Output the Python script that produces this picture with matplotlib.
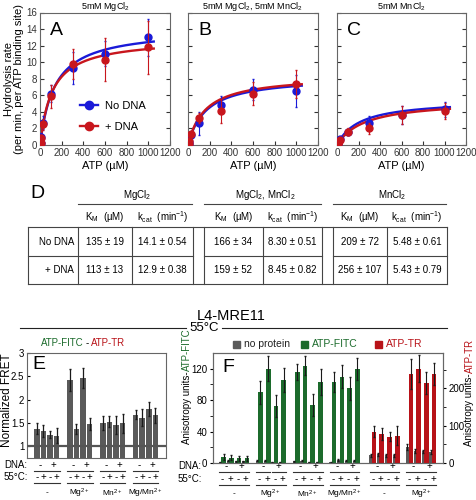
#!/usr/bin/env python3
"""ATP hydrolysis kinetics (A-D) and FRET / anisotropy bar charts (E-F)."""

import matplotlib
matplotlib.use("Agg")
import matplotlib.pyplot as plt
import matplotlib.transforms as mtransforms
from matplotlib.lines import Line2D
from matplotlib.patches import Rectangle
import numpy as np

plt.rcParams["font.family"] = ["Liberation Sans", "DejaVu Sans"]
plt.rcParams["mathtext.fontset"] = "custom"
plt.rcParams["mathtext.rm"] = "Liberation Sans"
plt.rcParams["mathtext.it"] = "Liberation Sans:italic"
plt.rcParams["mathtext.default"] = "regular"

W, H = 476, 500

# ---- panels A-C: hydrolysis rate vs ATP
ATP = [5, 10, 30, 100, 300, 600, 1000]
TITLES = ["5mM MgCl$_2$", "5mM MgCl$_2$, 5mM MnCl$_2$", "5mM MnCl$_2$"]
LETTERS = ["A", "B", "C"]

A_NODNA = [0.3, 1.0, 2.7, 6.2, 9.3, 11.0, 13.0]
A_NODNA_ERR = [0.2, 0.4, 0.8, 1.0, 1.9, 1.5, 2.2]
A_DNA = [0.3, 0.9, 2.5, 5.9, 9.8, 10.3, 11.8]
A_DNA_ERR = [0.2, 0.3, 0.7, 1.4, 1.8, 2.6, 3.2]

B_NODNA = [0.1, 0.4, 1.2, 2.6, 4.8, 6.7, 6.5]
B_NODNA_ERR = [0.1, 0.2, 0.4, 1.4, 1.1, 1.3, 1.9]
B_DNA = [0.1, 0.5, 1.3, 3.3, 4.1, 6.2, 7.4]
B_DNA_ERR = [0.1, 0.2, 0.3, 0.6, 1.5, 1.4, 1.7]

C_NODNA = [0.1, 0.3, 0.7, 1.6, 2.6, 3.6, 4.3]
C_NODNA_ERR = [0.1, 0.1, 0.3, 0.3, 0.9, 1.1, 0.9]
C_DNA = [0.1, 0.3, 0.6, 1.6, 2.0, 3.6, 4.1]
C_DNA_ERR = [0.1, 0.1, 0.2, 0.4, 0.7, 1.1, 1.0]

# ---- table D (fit parameters)
TABLE_GROUPS = ["MgCl$_2$", "MgCl$_2$, MnCl$_2$", "MnCl$_2$"]
ROW_LABELS = ["No DNA", "+ DNA"]
KM_NODNA = [135, 166, 209]
KM_NODNA_ERR = [19, 34, 72]
KCAT_NODNA = [14.1, 8.30, 5.48]
KCAT_NODNA_ERR = [0.54, 0.51, 0.61]
KM_DNA = [113, 159, 256]
KM_DNA_ERR = [13, 52, 107]
KCAT_DNA = [12.9, 8.45, 5.43]
KCAT_DNA_ERR = [0.38, 0.82, 0.79]

# ---- panel E: normalized FRET
E_VALUES = [1.38, 1.33, 1.25, 1.23, 2.42, 1.37, 2.46, 1.47,
            1.50, 1.53, 1.45, 1.49, 1.68, 1.61, 1.79, 1.67]
E_ERR = [0.11, 0.13, 0.08, 0.16, 0.23, 0.11, 0.21, 0.13,
         0.15, 0.12, 0.19, 0.20, 0.10, 0.18, 0.15, 0.16]
E_GROUPS = ["-", "Mg$^{2+}$", "Mn$^{2+}$", "Mg/Mn$^{2+}$"]

# ---- panel F: anisotropy
F_GROUPS = ["-", "Mg$^{2+}$", "Mn$^{2+}$", "Mg/Mn$^{2+}$", "-", "Mg$^{2+}$"]
F_PROBE = ["FITC", "FITC", "FITC", "FITC", "TR", "TR"]
F_NOPROT = [1, 3, 2, 2, 3, 3, 1, 1, 2, 3, 1, 1, 1, 4, 3, 3,
            21, 23, 21, 21, 43, 32, 31, 30]
F_NOPROT_ERR = [0.5, 1, 1, 1, 1, 1, 0.5, 0.5, 1, 1, 0.5, 0.5, 0.5, 1, 1, 1,
                4, 4, 4, 4, 8, 5, 5, 5]
F_SIGNAL = [8, 7, 6, 6, 90, 120, 73, 106, 116, 124, 74, 103, 103, 110, 95, 120,
            84, 78, 71, 73, 238, 253, 215, 238]
F_SIGNAL_ERR = [4, 3, 3, 3, 15, 16, 14, 15, 10, 12, 14, 17, 13, 15, 15, 14,
                15, 15, 13, 25, 40, 36, 30, 30]

BLUE = "#1a1ad8"
RED = "#c8161d"
GREEN = "#1c6b2c"
FRED = "#b81218"
GRAY = "#5a5a5a"
SPINE = "#666666"


def fy(y):
    return 1 - y / H


def px_axes(fig, x0, y0, x1, y1):
    return fig.add_axes([x0 / W, 1 - y1 / H, (x1 - x0) / W, (y1 - y0) / H])


def ftext(fig, x, y, s, **kw):
    kw.setdefault("ha", "center")
    kw.setdefault("va", "center")
    return fig.text(x / W, fy(y), s, **kw)


def fline(fig, x0, x1, y0, y1, **kw):
    kw.setdefault("color", "#444444")
    kw.setdefault("lw", 0.8)
    fig.add_artist(Line2D([x0 / W, x1 / W], [fy(y0), fy(y1)], **kw))


def style_box(ax):
    for s in ax.spines.values():
        s.set_color(SPINE)
        s.set_linewidth(0.8)


def kinetics_panel(fig, ax, i, nodna, nodna_err, dna, dna_err):
    s = np.linspace(0, 1050, 200)
    for km, kcat, col in [(KM_NODNA[i], KCAT_NODNA[i], BLUE),
                          (KM_DNA[i], KCAT_DNA[i], RED)]:
        ax.plot(s, kcat * s / (km + s), color=col, lw=1.7, zorder=2)
    ax.errorbar(ATP, nodna, yerr=nodna_err, fmt="o", color=BLUE, ms=5,
                elinewidth=0.8, capsize=1, zorder=3)
    ax.errorbar(ATP, dna, yerr=dna_err, fmt="o", color=RED, ms=5,
                elinewidth=0.8, capsize=1, zorder=4)
    ax.set_xlim(0, 1200)
    ax.set_ylim(0, 16)
    ax.set_xticks(range(0, 1201, 200))
    ax.set_yticks(range(0, 17, 2))
    ax.tick_params(direction="in", length=3, labelsize=7, pad=2,
                   right=True, colors="#333333")
    if i > 0:
        ax.set_yticklabels([])
    ax.set_xlabel("ATP (µM)", fontsize=8, labelpad=2)
    ax.text(0.08, 0.93, LETTERS[i], transform=ax.transAxes, fontsize=14,
            va="top", ha="left")
    style_box(ax)


def condition_rows(fig, ax, centers, hw, label, ys, fs=7):
    """DNA -/+ row, 55C -/+ row with underlines, then the group label."""
    y_dna, y_dline, y_t, y_tline, y_grp = ys
    tr = mtransforms.blended_transform_factory(ax.transData, fig.transFigure)
    kw = dict(transform=tr, clip_on=False, color="#333333", lw=0.8)
    for j, sign in enumerate(["-", "+"]):
        a, b = centers[2 * j], centers[2 * j + 1]
        ax.text((a + b) / 2, fy(y_dna), sign, transform=tr, ha="center",
                va="center", fontsize=fs)
        ax.plot([a - hw, b + hw], [fy(y_dline)] * 2, **kw)
    for c, sign in zip(centers, ["-", "+", "-", "+"]):
        ax.text(c, fy(y_t), sign, transform=tr, ha="center", va="center",
                fontsize=fs)
    ax.plot([centers[0] - hw, centers[-1] + hw], [fy(y_tline)] * 2, **kw)
    ax.text(np.mean(centers), fy(y_grp), label, transform=tr, ha="center",
            va="center", fontsize=6)


def main():
    fig = plt.figure(figsize=(W / 100, H / 100), dpi=100)

    # ---- A-C
    panel_data = [(A_NODNA, A_NODNA_ERR, A_DNA, A_DNA_ERR),
                  (B_NODNA, B_NODNA_ERR, B_DNA, B_DNA_ERR),
                  (C_NODNA, C_NODNA_ERR, C_DNA, C_DNA_ERR)]
    xs = [(40, 170), (188, 318), (337, 466)]
    for i, ((x0, x1), d) in enumerate(zip(xs, panel_data)):
        ax = px_axes(fig, x0, 12.5, x1, 145)
        kinetics_panel(fig, ax, i, *d)
        ftext(fig, (x0 + x1) / 2, 6.5, TITLES[i], fontsize=6.5)
        if i == 0:
            handles = [Line2D([], [], color=BLUE, marker="o", ms=6, lw=1.7),
                       Line2D([], [], color=RED, marker="o", ms=6, lw=1.7)]
            ax.legend(handles, ["No DNA", "+ DNA"], loc="upper left",
                      bbox_to_anchor=(0.31, 0.33), frameon=False,
                      fontsize=8, handlelength=1.6, labelspacing=1.0,
                      handletextpad=0.6, borderpad=0, borderaxespad=0)
    ftext(fig, 14, 79, "Hydrolysis rate\n(per min, per ATP binding site)",
          rotation=90, fontsize=8, linespacing=1.1)

    # ---- D: table
    ftext(fig, 30, 194, "D", fontsize=14, ha="left")
    grp_x = [(78, 193), (204, 322), (333, 447)]
    for (a, b), name in zip(grp_x, TABLE_GROUPS):
        ftext(fig, (a + b) / 2 + 2, 195, name, fontsize=7)
        fline(fig, a, b - 1, 204, 204)
    col_edges = [(78, 132, 193), (204, 263, 322), (333, 387, 447)]
    for a, m, b in col_edges:
        ftext(fig, (a + m) / 2, 217, "K$_M$  (µM)", fontsize=7)
        ftext(fig, (m + b) / 2, 217, "k$_{cat}$  (min$^{-1}$)", fontsize=7)
    top, mid, bot = 227, 256, 284
    fline(fig, 28, 447, top, top)
    fline(fig, 28, 447, bot, bot)
    for a, m, b in col_edges:
        fline(fig, a, b, mid, mid)
    fline(fig, 28, 78, mid, mid)
    for x in [28, 78, 132, 193, 204, 263, 322, 333, 387, 447]:
        fline(fig, x, x, top, bot)
    rows = [(KM_NODNA, KM_NODNA_ERR, KCAT_NODNA, KCAT_NODNA_ERR),
            (KM_DNA, KM_DNA_ERR, KCAT_DNA, KCAT_DNA_ERR)]
    for r, (y, (km, kme, kc, kce)) in enumerate(zip([242, 270], rows)):
        ftext(fig, 74, y, ROW_LABELS[r], fontsize=7, ha="right")
        for g, (a, m, b) in enumerate(col_edges):
            ftext(fig, (a + m) / 2, y, f"{km[g]} ± {kme[g]}", fontsize=7)
            ftext(fig, (m + b) / 2, y, f"{kc[g]:#.3g} ± {kce[g]:.2f}",
                  fontsize=7)

    # ---- header for E/F
    ftext(fig, 231, 316, "L4-MRE11", fontsize=10.5)
    ftext(fig, 204, 328, "55°C", fontsize=9.5)
    fline(fig, 20, 186, 328, 328, color="#222222")
    fline(fig, 222, 447, 328, 328, color="#222222")

    # ---- E
    axE = px_axes(fig, 27, 353, 166, 458)
    xe = [5 * (i // 4) + i % 4 for i in range(len(E_VALUES))]
    axE.bar(xe, E_VALUES, 0.85, color=GRAY, yerr=E_ERR,
            error_kw=dict(ecolor="#1a1a1a", elinewidth=0.9, capsize=0.8))
    axE.axhline(1, color="#555555", lw=1.6, zorder=3)
    axE.set_xlim(-1.5, 19.6)
    axE.set_ylim(0.75, 3)
    axE.set_yticks([1, 1.5, 2, 2.5, 3])
    axE.set_yticklabels(["1", "1.5", "2", "2.5", "3"])
    axE.set_xticks([])
    axE.tick_params(direction="in", length=2.5, labelsize=7, pad=2)
    style_box(axE)
    axE.text(0.04, 0.97, "E", transform=axE.transAxes, fontsize=14,
             va="top", ha="left")
    ftext(fig, 7.5, 400, "Normalized FRET", rotation=90, fontsize=8.5)
    ftext(fig, 84, 343, "ATP-FITC", color=GREEN, fontsize=7, ha="right")
    ftext(fig, 87.5, 343, "-", fontsize=7)
    ftext(fig, 91, 343, "ATP-TR", color=FRED, fontsize=7, ha="left")
    for g in range(4):
        condition_rows(fig, axE, xe[4 * g:4 * g + 4], 0.45, E_GROUPS[g],
                       (465, 470.5, 477, 482.5, 493))
    ftext(fig, 4, 465, "DNA:", fontsize=7, ha="left")
    ftext(fig, 4, 477, "55°C:", fontsize=7, ha="left")

    # ---- F
    axF = px_axes(fig, 213, 353, 443, 463)
    axF2 = axF.twinx()
    for g in range(6):
        start = g * 9.5 + (0.8 if g >= 4 else 0)
        a = axF if F_PROBE[g] == "FITC" else axF2
        col = GREEN if F_PROBE[g] == "FITC" else FRED
        centers = []
        for k in range(4):
            i = 4 * g + k
            ek = dict(ecolor="#1a1a1a", elinewidth=0.8, capsize=0.8)
            a.bar(start + 2 * k + 0.3, F_NOPROT[i], 0.6, color=GRAY,
                  yerr=F_NOPROT_ERR[i], error_kw=ek)
            a.bar(start + 2 * k + 1.2, F_SIGNAL[i], 1.2, color=col,
                  yerr=F_SIGNAL_ERR[i], error_kw=ek)
            centers.append(start + 2 * k + 0.9)
        condition_rows(fig, axF, centers, 0.85, F_GROUPS[g],
                       (466, 471.5, 479, 484.5, 494))
    axF.set_xlim(-1.55, 57.8)
    axF.set_ylim(0, 140)
    axF2.set_ylim(0, 295)
    axF.set_yticks([0, 40, 80, 120])
    axF.set_yticks([20, 60, 100], minor=True)
    axF2.set_yticks([0, 100, 200])
    axF2.set_yticks([50, 150, 250], minor=True)
    axF.set_xticks([])
    for a in (axF, axF2):
        a.tick_params(which="both", direction="out", length=2.5,
                      labelsize=7, pad=1.5)
        style_box(a)
    axF.text(0.04, 0.95, "F", transform=axF.transAxes, fontsize=14,
             va="top", ha="left")
    ftext(fig, 178, 466, "DNA:", fontsize=7, ha="left")
    ftext(fig, 178, 479, "55°C:", fontsize=7, ha="left")

    # rotated two-colour axis labels
    ftext(fig, 187, 371, "Anisotropy units-", rotation=90, fontsize=7,
          ha="right", rotation_mode="anchor")
    ftext(fig, 187, 371, "ATP-FITC", rotation=90, fontsize=7, color=GREEN,
          ha="left", rotation_mode="anchor")
    ftext(fig, 469.5, 373, "Anisotropy units-", rotation=90, fontsize=7,
          ha="right", rotation_mode="anchor")
    ftext(fig, 469.5, 373, "ATP-TR", rotation=90, fontsize=7, color=FRED,
          ha="left", rotation_mode="anchor")

    # legend for F
    for x, col, lab, tcol in [(233, GRAY, "no protein", "#222222"),
                              (301, GREEN, "ATP-FITC", GREEN),
                              (375, FRED, "ATP-TR", FRED)]:
        fig.add_artist(Rectangle((x / W, fy(348)), 7 / W, 7 / H,
                                 color=col, transform=fig.transFigure))
        ftext(fig, x + 11, 344, lab, fontsize=7.5, color=tcol, ha="left")

    fig.savefig("out.png", dpi=100)
    plt.close(fig)


if __name__ == "__main__":
    main()
